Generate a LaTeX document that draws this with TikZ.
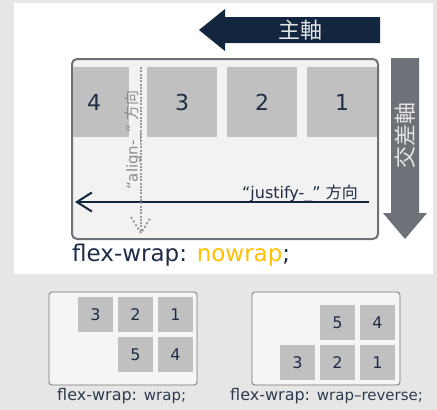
\documentclass[tikz,border=0pt]{standalone}
\usepackage{fontspec}
\setmainfont{DejaVu Sans}
\newfontfamily\cjk{Noto Sans CJK JP}
\usetikzlibrary{arrows.meta}
\definecolor{navy}{HTML}{12263F}
\definecolor{axisgray}{HTML}{6D7178}
\definecolor{itemgray}{HTML}{C0C0C0}
\definecolor{boxfill}{HTML}{F2F2F2}
\definecolor{smallfill}{HTML}{F5F5F5}
\definecolor{bggray}{HTML}{E6E6E6}
\definecolor{txtnavy}{HTML}{1E2D45}
\definecolor{captxt}{HTML}{2E3B4E}
\definecolor{nowrapyellow}{HTML}{FFC000}
\definecolor{dotgray}{HTML}{999999}
\definecolor{aligngray}{HTML}{8A8A8A}
\definecolor{axistxt}{HTML}{E4E4E4}
\definecolor{boxborder}{HTML}{757575}
\begin{document}
\begin{tikzpicture}[x=1pt,y=-1pt,
  bigitem/.style={fill=itemgray, inner sep=0, minimum width=70pt, minimum height=70pt,
    text=txtnavy, font=\fontsize{22}{24}\selectfont},
  smallitem/.style={fill=itemgray, inner sep=0, minimum width=35pt, minimum height=35pt,
    text=txtnavy, font=\fontsize{16}{18}\selectfont},
  smallbox/.style={draw=boxborder, line width=0.8pt, fill=smallfill, rounded corners=3pt},
  caption/.style={anchor=base west, inner sep=0, text=captxt, font=\fontsize{16}{18}\selectfont},
  axislabel/.style={text=axistxt, font=\cjk\fontsize{22}{24}\selectfont, inner sep=0},
  dotline/.style={dotgray, line width=2pt, dash pattern=on 2pt off 1.3pt}]
\useasboundingbox (0,0) rectangle (437,410);
\fill[bggray] (0,0) rectangle (437,410);
\fill[white] (14,3) rectangle (433,274);

% main axis arrow
\fill[navy] (199,30) -- (225,9) -- (225,17) -- (380,17) -- (380,43) -- (225,43) -- (225,51) -- cycle;
\node[axislabel] (mainaxis) at (300,30) {主軸};

% cross axis arrow
\fill[axisgray] (391,58) -- (419,58) -- (419,213) -- (427,213) -- (405,239) -- (383,213) -- (391,213) -- cycle;
\node[axislabel, rotate=90] (crossaxis) at (405,135) {交差軸};

% container
\node[draw=axisgray, line width=2pt, fill=boxfill, rounded corners=5pt, inner sep=0,
  minimum width=306pt, minimum height=180pt] (cont) at (225,149) {};
\begin{scope}
\clip[rounded corners=5pt] (73,60) rectangle (377,238);
\node[bigitem] (i4) at (94,102) {4};
\end{scope}
\node[bigitem] (i3) at (182,102) {3};
\node[bigitem] (i2) at (262,102) {2};
\node[bigitem] (i1) at (342,102) {1};

% justify arrow
\coordinate (jstart) at (369,202);
\coordinate (jend) at (75,202);
\draw[navy, line width=2pt, -{Straight Barb[length=15pt, width=19pt]}] (jstart) -- (jend);
\node[anchor=base east, inner sep=0, text=txtnavy, font=\fontsize{16}{18}\selectfont] (jtxt) at (358,198) {“justify-\_” {\cjk 方向}};

% align arrow (dotted)
\coordinate (atop) at (141,67);
\coordinate (abot) at (141,233);
\node[rotate=90, inner sep=0, text=aligngray, font=\fontsize{15}{17}\selectfont] (atxt) at (133,140) {“align-\_” {\cjk 方向}};
\draw[dotline] (atop) -- (abot);
\draw[dotline, dash pattern=on 2pt off 2.2pt] ([xshift=-10pt,yshift=16pt]abot) -- (abot) -- ([xshift=10pt,yshift=16pt]abot);

% caption main
\node[anchor=base west, inner sep=0, text=txtnavy, font=\fontsize{23}{26}\selectfont] (mcap) at (72,261)
  {flex-wrap: \textcolor{nowrapyellow}{nowrap};};

% wrap box
\node[smallbox, minimum width=148pt, minimum height=93pt, inner sep=0] (wbox) at (123,338.5) {};
\node[smallitem] (w3) at (95.5,314.5) {3};
\node[smallitem] (w2) at (135.5,314.5) {2};
\node[smallitem] (w1) at (175.5,314.5) {1};
\node[smallitem] (w5) at (135.5,354.5) {5};
\node[smallitem] (w4) at (175.5,354.5) {4};
\node[caption] (wcap) at (57,400) {flex-wrap: {\fontsize{15}{17}\selectfont wrap;}};

% wrap-reverse box
\node[smallbox, minimum width=148pt, minimum height=93pt, inner sep=0] (rbox) at (326,338.5) {};
\node[smallitem] (r5) at (337.5,322.5) {5};
\node[smallitem] (r4) at (377.5,322.5) {4};
\node[smallitem] (r3) at (297.5,362.5) {3};
\node[smallitem] (r2) at (337.5,362.5) {2};
\node[smallitem] (r1) at (377.5,362.5) {1};
\node[caption] (rcap) at (230,400) {flex-wrap: {\fontsize{15}{17}\selectfont wrap–reverse;}};
\end{tikzpicture}
\end{document}
